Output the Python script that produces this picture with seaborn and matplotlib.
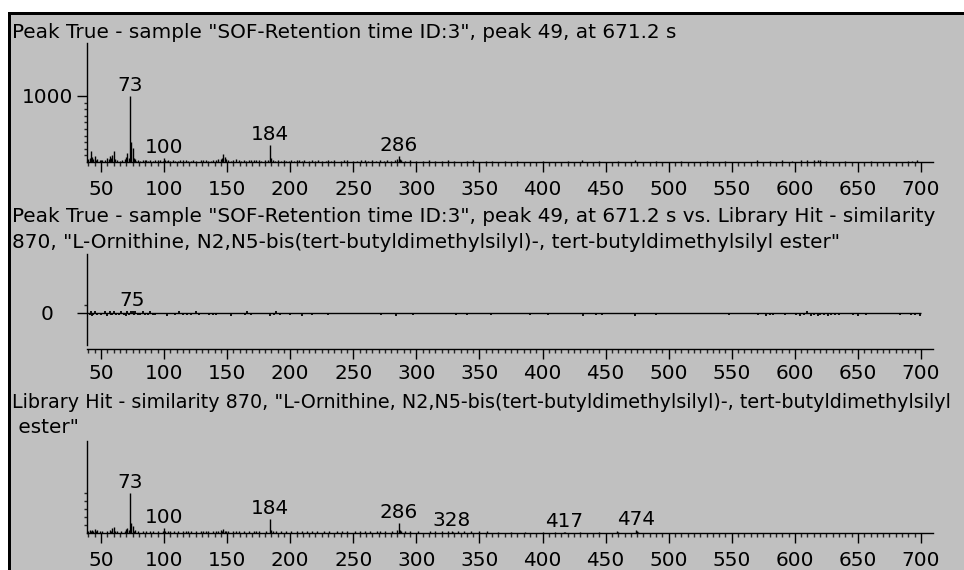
import matplotlib
matplotlib.use("Agg")
import matplotlib.pyplot as plt
from matplotlib.patches import Rectangle
from matplotlib.ticker import FixedLocator, NullFormatter
import seaborn as sns

# ---------------- data ----------------
# measured spectrum (m/z, intensity, base peak scaled to 999)
sample_mz = [40, 41, 42, 43, 44, 45, 46, 47, 49, 50, 51, 53, 55, 56, 57, 58, 59, 60, 61, 63,
             65, 67, 69, 70, 71, 72, 73, 74, 75, 76, 77, 78, 79, 81, 83, 85, 86, 87, 89, 91,
             93, 95, 97, 99, 100, 101, 102, 103, 105, 107, 109, 111, 113, 115, 117, 119, 121,
             123, 125, 129, 131, 133, 135, 137, 139, 141, 143, 145, 146, 147, 148, 149, 151,
             153, 155, 157, 159, 161, 163, 165, 167, 169, 171, 173, 175, 177, 180, 182, 184,
             185, 186, 188, 190, 193, 195, 197, 199, 201, 203, 205, 207, 209, 211, 215, 217,
             220, 222, 225, 228, 230, 232, 235, 240, 243, 245, 250, 253, 256, 259, 262, 265,
             268, 271, 274, 277, 280, 283, 285, 286, 287, 288, 291, 295, 300, 305, 310, 315,
             320, 325, 330, 340, 345, 355, 360, 370, 380, 400, 420, 431, 445, 460, 473, 490,
             510, 530, 545, 570, 580, 590, 598, 605, 610, 615, 618, 620, 625, 640, 660, 690,
             693, 697]
sample_int = [40, 60, 160, 70, 40, 85, 30, 45, 30, 25, 30, 25, 60, 45, 85, 60, 100, 160, 40, 25,
              20, 25, 40, 70, 135, 60, 999, 300, 210, 60, 45, 20, 25, 20, 30, 25, 35, 20, 25, 20,
              30, 25, 30, 20, 60, 35, 20, 25, 20, 25, 20, 20, 25, 30, 25, 20, 20,
              25, 20, 25, 30, 35, 20, 20, 25, 30, 40, 45, 60, 125, 80, 50, 25,
              20, 30, 40, 35, 20, 25, 20, 30, 25, 35, 25, 30, 20, 25, 30, 250,
              60, 30, 20, 25, 20, 25, 20, 20, 30, 20, 25, 35, 20, 25, 20, 25,
              20, 30, 20, 20, 25, 20, 25, 20, 25, 30, 20, 20, 25, 30, 20, 25,
              20, 25, 20, 30, 20, 25, 40, 85, 45, 30, 20, 25, 20, 20, 25, 20,
              20, 25, 20, 20, 25, 20, 20, 20, 15, 15, 15, 30, 15, 20, 30, 15,
              15, 15, 15, 25, 20, 25, 20, 30, 25, 35, 30, 25, 20, 15, 15, 20,
              20, 25]

# difference spectrum (measured minus library)
diff_mz = [41, 42, 43, 44, 45, 47, 50, 53, 55, 57, 58, 59, 60, 62, 64, 66, 68, 70, 71, 72,
           74, 75, 76, 77, 79, 81, 83, 85, 87, 89, 91, 93, 102, 109, 112, 115, 118, 121, 125,
           128, 136, 139, 141, 153, 164, 166, 169, 184, 187, 189, 192, 200, 209, 217, 230,
           272, 284, 297, 331, 340, 359, 390, 404, 432, 442, 447, 473, 490, 548, 571, 577,
           580, 583, 592, 601, 604, 607, 610, 613, 615, 618, 620, 623, 626, 629, 632, 635,
           646, 650, 656, 683, 692, 695, 699]
diff_int = [-60, 50, -70, -55, 55, -60, -55, 50, -65, 50, -60, -55, 55, -55, -60, 50, -55,
            -65, 55, -60, 60, 40, -60, 50, -55, -60, 50, -55, -60, 50, -55, -60, -65, -60,
            50, -60, -55, -60, 50, -60, -60, -55, -60, -65, -60, 50, -60, -65, -60, 50,
            -60, -60, -65, -60, -60, -60, -65, -60, -60, -60, -60, -60, -60, -65, -60,
            -60, -65, -60, -60, -60, -65, -60, -60, -60, -60, -65, -60, 50, -65, -60, -65,
            -60, -60, -65, -60, -60, -60, -60, -65, -60, -60, -60, -60, -65]

# library spectrum
library_mz = [40, 41, 42, 43, 44, 45, 46, 47, 49, 51, 55, 57, 58, 59, 60, 61, 63, 66, 69, 70,
              71, 72, 73, 74, 75, 76, 77, 79, 83, 86, 89, 91, 95, 99, 100, 101, 103, 105, 108,
              111, 115, 117, 119, 121, 125, 129, 131, 133, 135, 139, 141, 143, 145, 146, 147,
              148, 149, 151, 155, 157, 159, 163, 167, 171, 173, 175, 181, 184, 185, 186, 189,
              193, 197, 201, 205, 209, 213, 217, 221, 227, 231, 237, 241, 245, 251, 255, 259,
              263, 269, 271, 275, 281, 285, 286, 287, 288, 291, 295, 301, 311, 315, 320, 325,
              328, 329, 333, 338, 343, 350, 356, 365, 375, 386, 400, 410, 417, 418, 430, 445,
              459, 460, 474, 475, 476]
library_int = [50, 75, 60, 75, 40, 100, 40, 75, 50, 40, 60, 75, 60, 125, 150, 60, 50, 40, 60,
               100, 125, 75, 999, 250, 165, 60, 75, 40, 50, 60, 40, 40, 50, 40, 125, 60, 40,
               40, 50, 40, 60, 50, 40, 40, 40, 60, 50, 60, 40, 40, 50, 60, 75, 60, 100, 60,
               50, 40, 40, 50, 40, 50, 40, 60, 40, 50, 40, 350, 75, 50, 40, 40, 50, 60, 40,
               50, 40, 50, 40, 50, 40, 40, 50, 40, 40, 50, 60, 40, 50, 40, 40, 50, 75, 250,
               80, 50, 40, 40, 40, 40, 40, 50, 40, 40, 30, 40, 40, 40, 40, 40, 30, 30, 30,
               30, 30, 30, 25, 25, 25, 40, 30, 75, 40, 30]

sample_labels = [73, 100, 184, 286]
diff_labels = [75]
library_labels = [73, 100, 184, 286, 328, 417, 474]

mz_major = list(range(50, 701, 50))
mz_minor = [m for m in range(40, 700, 5) if m % 50]

title_sample = ['Peak True - sample "SOF-Retention time ID:3", peak 49, at 671.2 s']
title_diff = ['Peak True - sample "SOF-Retention time ID:3", peak 49, at 671.2 s vs. Library Hit - similarity',
              '870, "L-Ornithine, N2,N5-bis(tert-butyldimethylsilyl)-, tert-butyldimethylsilyl ester"']
title_library = ['Library Hit - similarity 870, "L-Ornithine, N2,N5-bis(tert-butyldimethylsilyl)-, tert-butyldimethylsilyl',
                 ' ester"']

# ---------------- style ----------------
sns.set_theme(style="ticks")
plt.rcParams["font.family"] = ["DejaVu Sans"]
FS = 14.4
GRAY = "#c0c0c0"

W, H = 964, 570
fig = plt.figure(figsize=(W / 100, H / 100), dpi=100)
fig.patch.set_facecolor("white")


def rect(l, t, r, b):
    return [l / W, 1 - b / H, (r - l) / W, (b - t) / H]


# window frame: black top/left border, gray client area
fig.add_artist(Rectangle((8 / W, 0), 1, 1 - 12 / H, transform=fig.transFigure,
                         facecolor="black", edgecolor="none", zorder=-20))
fig.add_artist(Rectangle((11 / W, 0), 1, 1 - 15 / H, transform=fig.transFigure,
                         facecolor=GRAY, edgecolor="none", zorder=-19))

XLIM = (38.9, 709.5)
PX = 0.72  # points per pixel


def style_axes(ax, ylim, xpad):
    ax.set_facecolor("none")
    ax.set_xlim(*XLIM)
    ax.set_ylim(*ylim)
    sns.despine(ax=ax, top=True, right=True)
    for s in ("left", "bottom"):
        ax.spines[s].set_color("black")
        ax.spines[s].set_linewidth(1.0)
    ax.xaxis.set_major_locator(FixedLocator(mz_major))
    ax.xaxis.set_minor_locator(FixedLocator(mz_minor))
    ax.xaxis.set_minor_formatter(NullFormatter())
    ax.tick_params(axis="x", which="major", length=10 * PX, width=1.0, direction="out",
                   pad=xpad, labelsize=FS, colors="black")
    ax.tick_params(axis="x", which="minor", length=4 * PX, width=1.0, direction="out")
    ax.tick_params(axis="y", which="minor", length=3.5 * PX, width=1.0, direction="out")
    ax.tick_params(axis="y", which="major", length=10 * PX, width=1.0, direction="out",
                   labelsize=FS, colors="black")
    ax.grid(False)


def stems(ax, mz, val, labels, lw=1.0):
    ax.vlines(mz, 0, val, colors="black", linewidth=lw)
    lookup = dict(zip(mz, val))
    for m in labels:
        ax.annotate(str(m), xy=(m, max(lookup.get(m, 0), 0)), xytext=(0, 3.6),
                    textcoords="offset points", ha="center", va="baseline",
                    fontsize=FS, color="black")


# --- measured spectrum ---
ax1 = fig.add_axes(rect(87, 43, 933, 162))
style_axes(ax1, (0, 1800), 6.0)
ax1.yaxis.set_major_locator(FixedLocator([1000]))
ax1.yaxis.set_minor_locator(FixedLocator(list(range(100, 1000, 100))))
ax1.yaxis.set_minor_formatter(NullFormatter())
ax1.tick_params(axis="y", which="major", pad=3)
stems(ax1, sample_mz, sample_int, sample_labels)

# --- difference spectrum ---
ax2 = fig.add_axes(rect(87, 254, 933, 349))
style_axes(ax2, (-900, 1475), 3.5)
ax2.spines["left"].set_bounds(-800, 1475)
ax2.yaxis.set_major_locator(FixedLocator([0]))
ax2.yaxis.set_minor_locator(FixedLocator([200]))
ax2.yaxis.set_minor_formatter(NullFormatter())
ax2.tick_params(axis="y", which="major", pad=17)
ax2.hlines(0, XLIM[0], 700, colors="black", linewidth=1.0)
stems(ax2, diff_mz, diff_int, diff_labels, lw=1.3)

# --- library spectrum ---
ax3 = fig.add_axes(rect(87, 441, 933, 533))
style_axes(ax3, (0, 2300), 6.0)
ax3.yaxis.set_major_locator(FixedLocator([]))
ax3.yaxis.set_minor_locator(FixedLocator([200, 400, 600, 800, 1000]))
ax3.yaxis.set_minor_formatter(NullFormatter())
stems(ax3, library_mz, library_int, library_labels)

# --- panel headings ---
def heading(lines, baselines, sizes):
    for txt, yb, fs in zip(lines, baselines, sizes):
        fig.text(12 / W, 1 - yb / H, txt, ha="left", va="baseline",
                 fontsize=fs, color="black")


heading(title_sample, [37.7], [FS])
heading(title_diff, [221.7, 248.3], [FS, FS])
heading(title_library, [407.7, 432.7], [13.75, FS])

fig.savefig("out.png", dpi=100, facecolor=fig.get_facecolor())
